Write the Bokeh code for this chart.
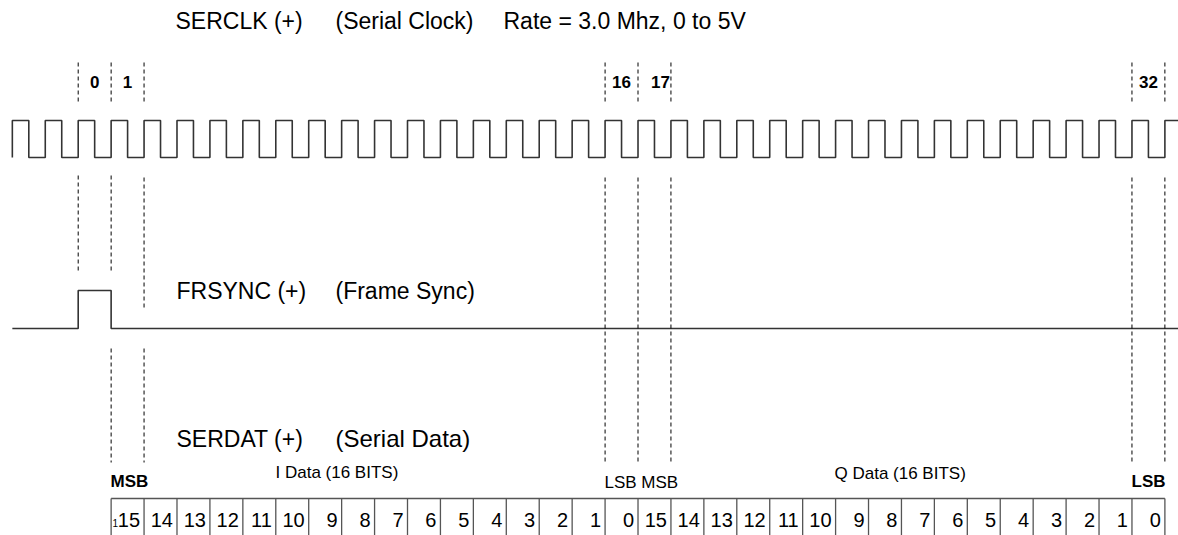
from bokeh.plotting import figure
from bokeh.models import Range1d, ColumnDataSource
from bokeh.core.properties import value
from bokeh.embed import file_html
from bokeh.resources import INLINE

# ---------------- data ----------------
clock_rising_edges = list(range(-2, 34))      # clock periods
frsync_pulse = (0, 1)                         # start / end of frame sync pulse (periods)
clock_labels = ["0", "1", "16", "17", "32"]
clock_label_pos = [0.5, 1.5, 16.5, 17.68, 32.5]
i_bits = [15, 14, 13, 12, 11, 10, 9, 8, 7, 6, 5, 4, 3, 2, 1, 0]
q_bits = [15, 14, 13, 12, 11, 10, 9, 8, 7, 6, 5, 4, 3, 2, 1, 0]
first_bit_cell = 1

# ---------------- layout ----------------
T0_PX = 77.7          # picture x of period 0
PER_PX = 32.93        # pixels per clock period
W, H = 1178, 535


def px(xp):
    return (xp - T0_PX) / PER_PX


X0, X1 = px(0), px(W)
FONT = value("Liberation Sans")
INK = "#333333"

p = figure(width=W, height=H, output_backend="svg", toolbar_location=None,
           x_range=Range1d(X0, X1), y_range=Range1d(H, 0),
           min_border=0, outline_line_color=None)
p.axis.visible = False
p.grid.visible = False

# clock waveform
CLK_HI, CLK_LO = 120, 157
cx, cy = [], []
for i, e in enumerate(clock_rising_edges):
    cx += [e, e]
    cy += [CLK_LO, CLK_HI]
    if i < len(clock_rising_edges) - 1:
        cx += [e + 0.5, e + 0.5]
        cy += [CLK_HI, CLK_LO]
    else:
        cx += [X1]
        cy += [CLK_HI]
p.line(cx, cy, line_color=INK, line_width=1.6)

# frame sync waveform
FS_HI, FS_LO = 290, 328
s0, s1 = frsync_pulse
fx = [clock_rising_edges[0], s0, s0, s1, s1, X1]
fy = [FS_LO, FS_LO, FS_HI, FS_HI, FS_LO, FS_LO]
p.line(fx, fy, line_color=INK, line_width=1.6)

# dashed marker lines
seg = dict(x0=[], y0=[], y1=[])
def add(t, a, b):
    seg["x0"].append(t); seg["y0"].append(a); seg["y1"].append(b)
for t in [0, 1, 2, 16, 17, 18, 32, 33]:
    add(t, 62, 102)
for t in [0, 1]:
    add(t, 175, 272)
add(2, 177, 308)
for t in [16, 17, 18, 32, 33]:
    add(t, 177, 462)
for t in [1, 2]:
    add(t, 348, 462)
p.segment(x0="x0", y0="y0", x1="x0", y1="y1", source=ColumnDataSource(seg),
          line_color="black", line_width=1, line_dash="4 3")

# clock number labels (y = visual centre)
p.text(x=clock_label_pos, y=[81] * len(clock_labels), text=clock_labels,
       text_font=FONT, text_font_size="17px", text_font_style="bold",
       text_align="center", text_baseline="middle", text_color="black")

# titles
def label(xp, yc, s, size="23px", style="normal", align="left"):
    p.text(x=[px(xp)], y=[yc], text=[s], text_font=FONT, text_font_size=size,
           text_font_style=style, text_align=align, text_baseline="middle",
           text_color="black")

label(175, 20, "SERCLK (+)")
label(335, 20, "(Serial Clock)")
label(503, 20, "Rate = 3.0 Mhz, 0 to 5V")
label(176, 290, "FRSYNC (+)")
label(335, 290, "(Frame Sync)")
label(176, 438, "SERDAT (+)")
label(335, 438, "(Serial Data)", size="24px")
label(275, 472, "I Data (16 BITS)", size="17px")
label(110, 481, "MSB", size="17px", style="bold")
label(604, 482, "LSB MSB", size="17px")
label(834, 473, "Q Data (16 BITS)", size="17px")
label(1131, 481, "LSB", size="17px", style="bold")

# bit table
bits = [str(b) for b in i_bits + q_bits]
n = len(bits)
edges = [first_bit_cell + k for k in range(n + 1)]
TAB_TOP, TAB_BOT = 498, 540
p.segment(x0=[edges[0]], y0=[TAB_TOP], x1=[edges[-1]], y1=[TAB_TOP],
          line_color="#555555", line_width=1.3)
p.segment(x0=edges, y0=[TAB_TOP] * len(edges), x1=edges, y1=[TAB_BOT] * len(edges),
          line_color="#555555", line_width=1.3)
p.text(x=[e - 4 / PER_PX for e in edges[1:]], y=[519] * n, text=bits,
       text_font=FONT, text_font_size="20px", text_align="right",
       text_baseline="middle", text_color="black")
label(112, 522, "1", size="10px")

open("out.html", "w").write(file_html(p, INLINE))
